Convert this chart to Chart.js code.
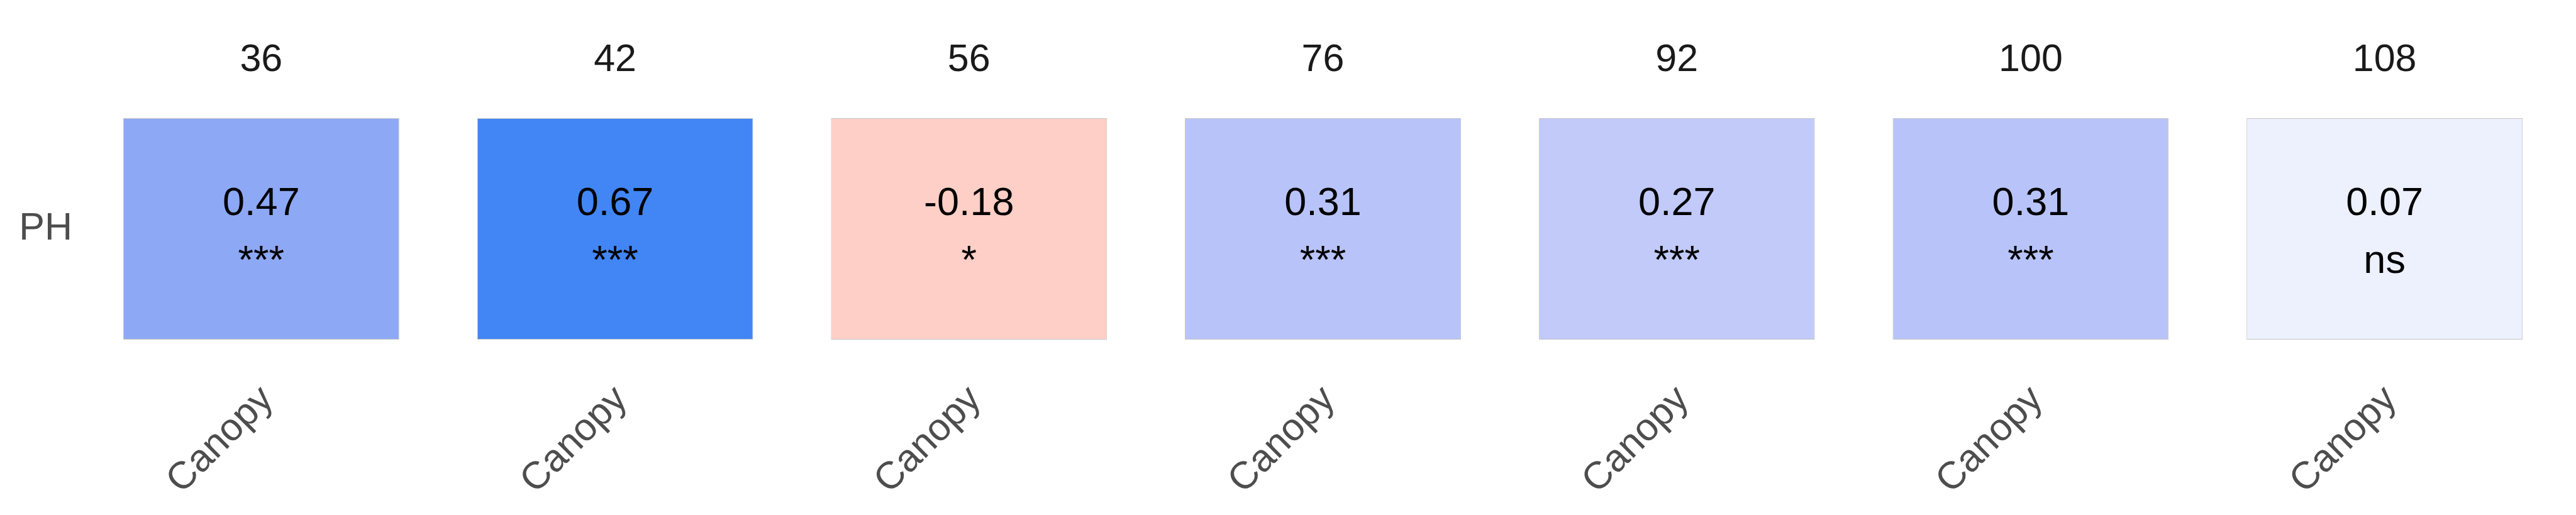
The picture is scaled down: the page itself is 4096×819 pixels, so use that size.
<!DOCTYPE html>
<html>
<head>
<meta charset="utf-8">
<script src="https://cdn.jsdelivr.net/npm/chart.js@4.4.1/dist/chart.umd.min.js"></script>
<style>
  html, body { margin: 0; padding: 0; background: #fff; }
  #wrap { width: 4096px; height: 819px; }
</style>
</head>
<body>
<div id="wrap"><canvas id="heat"></canvas></div>
<script>
// columns: sampling age (top), variable pair (bottom)
const ageLabels = ['36', '42', '56', '76', '92', '100', '108'];
const xLabels = ['Canopy', 'Canopy', 'Canopy', 'Canopy', 'Canopy', 'Canopy', 'Canopy'];
const rowLabel = 'PH';
const corrValues = [0.47, 0.67, -0.18, 0.31, 0.27, 0.31, 0.07];
const sigLabels = ['***', '***', '*', '***', '***', '***', 'ns'];
const cellColors = ['#8da8f5', '#4286f5', '#fdcfc6', '#b8c4f9', '#c1caf9', '#b8c4f9', '#edf0fd'];

const FONT = 'Liberation Sans, Arial, sans-serif';

// text inside each tile: value + significance
const cellText = {
    id: 'cellText',
    afterDatasetsDraw(chart) {
        const ctx = chart.ctx;
        const meta = chart.getDatasetMeta(0);
        ctx.save();
        ctx.fillStyle = '#000';
        ctx.textAlign = 'center';
        ctx.textBaseline = 'alphabetic';
        ctx.font = '63px ' + FONT;
        meta.data.forEach(function(bar, i) {
            const mid = (bar.y + bar.base) / 2;
            ctx.fillText(corrValues[i].toFixed(2), bar.x, mid - 22);
            ctx.fillText(sigLabels[i], bar.x, mid + 70);
        });
        ctx.restore();
    }
};

const heat = new Chart('heat', {
    type: 'bar',
    data: {
        labels: xLabels,
        datasets: [{
            data: corrValues.map(function() { return [0, 1]; }),
            backgroundColor: cellColors,
            borderColor: '#c4c4c4',
            borderWidth: 1,
            borderSkipped: false,
            categoryPercentage: 0.78,
            barPercentage: 1
        }]
    },
    options: {
        responsive: true,
        maintainAspectRatio: false,
        animation: false,
        layout: { padding: { left: 0, right: 23, top: 0, bottom: 0 } },
        plugins: { legend: { display: false }, tooltip: { enabled: false } },
        scales: {
            x: {
                type: 'category',
                position: 'bottom',
                grid: { display: false, drawTicks: false },
                border: { display: false },
                ticks: {
                    color: '#4d4d4d',
                    font: { family: FONT, size: 61 },
                    minRotation: 45,
                    maxRotation: 45,
                    padding: 60,
                    labelOffset: 10
                },
                afterFit: function(s) { s.height = 279; }
            },
            x2: {
                type: 'category',
                position: 'top',
                labels: ageLabels,
                grid: { display: false, drawTicks: false },
                border: { display: false },
                ticks: {
                    color: '#1a1a1a',
                    font: { family: FONT, size: 61 },
                    padding: 55
                },
                afterFit: function(s) { s.height = 188; }
            },
            y: {
                type: 'linear',
                min: 0,
                max: 1,
                grid: { display: false, drawTicks: false },
                border: { display: false },
                afterBuildTicks: function(s) { s.ticks = [{ value: 0.5 }]; },
                ticks: {
                    color: '#4d4d4d',
                    font: { family: FONT, size: 61 },
                    padding: 19,
                    callback: function() { return rowLabel; }
                },
                afterFit: function(s) { s.width = 134; }
            }
        }
    },
    plugins: [cellText]
});
</script>
</body>
</html>
